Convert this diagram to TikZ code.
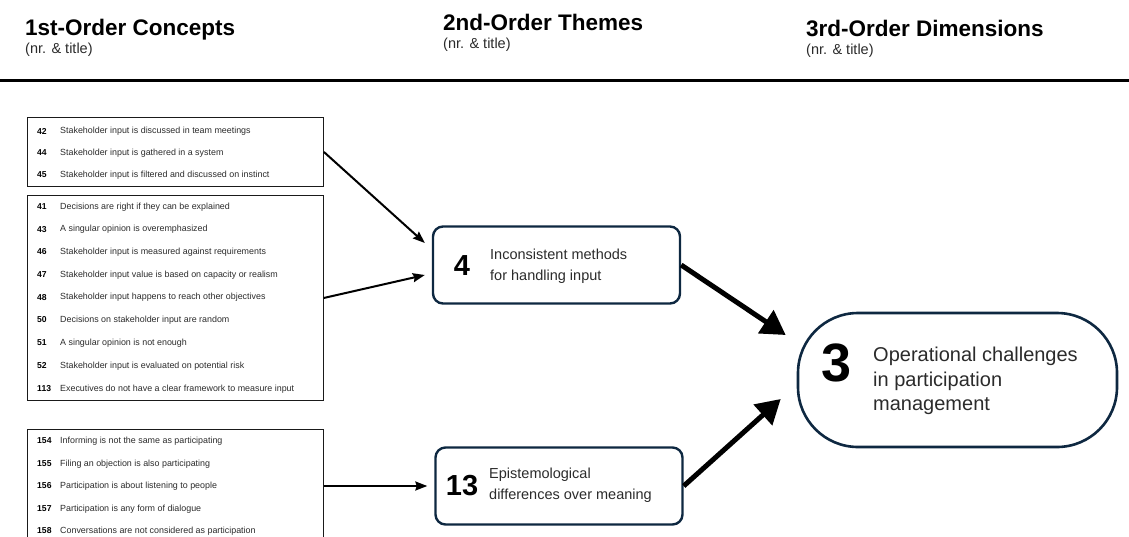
\documentclass[tikz,border=0pt]{standalone}
\usepackage{fontspec}
\setmainfont{Liberation Sans}
\usetikzlibrary{arrows.meta,calc}
\definecolor{navy}{HTML}{0E2841}
\definecolor{ink}{HTML}{1A1A1A}
\definecolor{txt}{HTML}{2B2B2B}

\begin{document}
\begin{tikzpicture}[x=1pt,y=-1pt,
  head/.style={anchor=base west,inner sep=0pt,font=\fontsize{22.5}{25}\selectfont\bfseries},
  sub/.style={anchor=base west,inner sep=0pt,font=\fontsize{14.5}{16}\selectfont,text=txt},
  listbox/.style={draw=ink,line width=0.9pt,minimum width=296pt,anchor=north west,inner sep=0pt},
  num/.style={anchor=west,inner sep=0pt,font=\fontsize{8.6}{9}\selectfont\bfseries},
  item/.style={anchor=west,inner sep=0pt,font=\fontsize{8.9}{9}\selectfont,text=txt},
  theme/.style={draw=navy,line width=2.4pt,rounded corners=10pt,minimum width=247pt,minimum height=77pt,inner sep=0pt},
  dim/.style={draw=navy,line width=2.6pt,rounded corners=60pt,minimum width=319pt,minimum height=134pt,inner sep=0pt},
  bignum/.style={inner sep=0pt,font=\fontsize{29}{30}\selectfont\bfseries},
  themetext/.style={anchor=west,inner sep=0pt,align=left,font=\fontsize{14.5}{21}\selectfont,text=txt},
  dimtext/.style={anchor=west,inner sep=0pt,align=left,font=\fontsize{20}{24.5}\selectfont,text=txt},
  thin/.style={line width=2pt,-{Stealth[length=12pt,width=9pt,inset=1.5pt]}},
  thick/.style={line width=5pt,-{Triangle[length=24pt,width=27pt]}}
]
\clip (0,0) rectangle (1129,536);

% column headings
\node[head] (h1) at (25,35) {1st-Order Concepts};
\node[sub] (s1) at (25,53) {(nr. \& title)};
\node[head] (h2) at (443,30) {2nd-Order Themes};
\node[sub] (s2) at (443,48) {(nr. \& title)};
\node[head] (h3) at (806,36) {3rd-Order Dimensions};
\node[sub] (s3) at (806,54) {(nr. \& title)};
\coordinate (ruleL) at (0,80);
\coordinate (ruleR) at (1129,80);
\draw[line width=3pt] (ruleL) -- (ruleR);

% first-order concept groups
\node[listbox,minimum height=69pt] (b1) at (27,117) {};
\node[listbox,minimum height=205pt] (b2) at (27,195) {};
\node[listbox,minimum height=140pt] (b3) at (27,429) {};

\foreach \n/\y/\t in {
  42/131/{Stakeholder input is discussed in team meetings},
  44/153/{Stakeholder input is gathered in a system},
  45/175/{Stakeholder input is filtered and discussed on instinct},
  41/207/{Decisions are right if they can be explained},
  43/229.5/{A singular opinion is overemphasized},
  46/252/{Stakeholder input is measured against requirements},
  47/275/{Stakeholder input value is based on capacity or realism},
  48/297.5/{Stakeholder input happens to reach other objectives},
  50/320/{Decisions on stakeholder input are random},
  51/343/{A singular opinion is not enough},
  52/366/{Stakeholder input is evaluated on potential risk},
  113/389/{Executives do not have a clear framework to measure input},
  154/441/{Informing is not the same as participating},
  155/464/{Filing an objection is also participating},
  156/486/{Participation is about listening to people},
  157/509/{Participation is any form of dialogue},
  158/531/{Conversations are not considered as participation}}{
  \node[num] (n\n) at (37,\y) {\n};
  \node[item] (i\n) at (60,\y) {\t};
}

% second-order themes
\node[theme] (t4) at (556.5,265) {};
\node[bignum] (d4) at (462,266) {4};
\node[themetext] (l4) at (490,266) {Inconsistent methods\\for handling input};

\node[theme] (t13) at (559,486) {};
\node[bignum] (d13) at (462,486) {13};
\node[themetext] (l13) at (489,485) {Epistemological\\differences over meaning};

% third-order dimension
\node[dim] (big) at (957.5,380) {};
\node[inner sep=0pt,font=\fontsize{54}{56}\selectfont\bfseries] (d3) at (837,363) {3};
\node[dimtext] (l3) at (873,381) {Operational challenges\\in participation\\management};

% connectors
\draw[thin] (b1.east) -- ([xshift=-7pt,yshift=22pt]t4.west);
\draw[thin] (b2.east) -- ([xshift=-7pt,yshift=-10pt]t4.west);
\draw[thin] (b3.east |- t13.west) -- ([xshift=-7pt]t13.west);
\draw[thick] (t4.east) -- ([xshift=-11pt,yshift=45pt]big.west);
\draw[thick] (t13.east) -- ([xshift=-16pt,yshift=-19pt]big.west);
\end{tikzpicture}
\end{document}
